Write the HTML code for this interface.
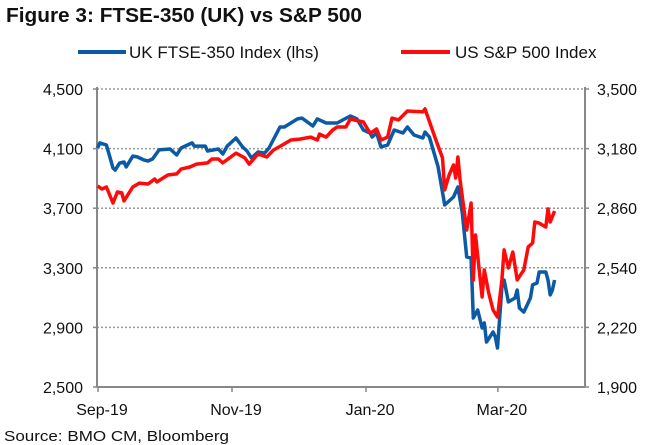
<!DOCTYPE html>
<html><head><meta charset="utf-8"><style>
body{margin:0;background:#fff;}
svg{display:block;font-family:"Liberation Sans",sans-serif;}
</style></head><body>
<svg id="chart" width="650" height="445" viewBox="0 0 650 445" xmlns="http://www.w3.org/2000/svg">
<text x="6" y="22" font-size="20" font-weight="bold" fill="#111" textLength="356" lengthAdjust="spacingAndGlyphs">Figure 3: FTSE-350 (UK) vs S&amp;P 500</text>
<g>
<line x1="78" y1="52" x2="126" y2="52" stroke="#0a5aa6" stroke-width="4"/>
<text x="129" y="58" font-size="17" fill="#111">UK FTSE-350 Index (lhs)</text>
<line x1="401" y1="52" x2="450" y2="52" stroke="#ff0a0a" stroke-width="4"/>
<text x="455" y="58" font-size="17" fill="#111">US S&amp;P 500 Index</text>
</g>
<g id="grid"></g>
<g id="axes"></g>
<g id="series"></g>
<text x="4" y="441" font-size="15" fill="#111" textLength="225" lengthAdjust="spacingAndGlyphs">Source: BMO CM, Bloomberg</text>
</svg>
<script>
const leftTicks=[4500,4100,3700,3300,2900,2500];
const leftTickLabels=["4,500","4,100","3,700","3,300","2,900","2,500"];
const rightTicks=[3500,3180,2860,2540,2220,1900];
const rightTickLabels=["3,500","3,180","2,860","2,540","2,220","1,900"];
const xTickDays=[0,61,122,182];
const xTickLabels=["Sep-19","Nov-19","Jan-20","Mar-20"];
const ftseDays=[-2,-1,2,5,6,8,10,11,14,16,19,21,23,26,31,34,36,41,42,47,48,53,55,57,61,64,66,68,71,74,76,81,83,89,91,96,98,102,107,113,116,119,122,123,125,127,130,133,137,139,142,146,147,149,153,156,160,162,164,166,168,169,171,173,174,175,178,179,180,182,183,185,188,189,190,192,195,196,198,199,202,203,204,205,206];
const ftseValues=[4104,4138,4124,3970,3956,4003,4010,3977,4050,4044,4024,4017,4030,4091,4097,4057,4104,4138,4117,4117,4084,4097,4064,4117,4171,4111,4084,4037,4077,4070,4104,4245,4245,4299,4305,4252,4299,4272,4272,4319,4299,4225,4205,4178,4205,4111,4124,4225,4205,4245,4191,4171,4211,4178,3977,3722,3775,3842,3668,3373,3366,2963,3017,2896,2930,2802,2869,2836,2762,3171,3218,3071,3097,3151,3030,3003,3097,3185,3198,3272,3272,3218,3118,3151,3218];
const spDays=[-2,0,2,5,7,9,10,14,17,21,24,25,30,34,36,40,43,48,50,53,55,61,65,67,71,75,78,82,86,90,95,98,99,102,105,107,111,113,119,122,123,125,127,130,132,135,139,146,147,152,155,156,158,160,161,162,163,166,168,169,170,173,174,176,178,180,182,183,185,187,189,192,194,196,197,199,202,203,204,206];
const spValues=[2979,2963,2974,2888,2947,2942,2899,2974,2995,2990,3017,3001,3038,3044,3070,3081,3097,3103,3124,3124,3103,3156,3130,3097,3151,3135,3172,3199,3226,3231,3242,3226,3258,3242,3280,3296,3296,3339,3323,3264,3269,3285,3226,3242,3344,3334,3382,3377,3393,3226,3130,2958,3038,3092,3022,3135,3011,2743,2888,2475,2716,2383,2528,2405,2313,2276,2475,2636,2539,2625,2475,2528,2652,2673,2786,2780,2759,2856,2786,2845];

const NS="http://www.w3.org/2000/svg";
const X0=97,X1=585,Y0=89,Y1=387;
const xScale=d=>102+d*2.197;
const yLeft=v=>Y0+(4500-v)/(4500-2500)*(Y1-Y0);
const yRight=v=>Y0+(3500-v)/(3500-1900)*(Y1-Y0);
function mk(tag,attrs,parent){const e=document.createElementNS(NS,tag);for(const k in attrs)e.setAttribute(k,attrs[k]);parent.appendChild(e);return e;}
const grid=document.getElementById('grid'),axes=document.getElementById('axes'),series=document.getElementById('series');
leftTicks.forEach((v,i)=>{
  const y=yLeft(v);
  if(i<leftTicks.length-1){const g=mk('line',{x1:X0,x2:X1,y1:y,y2:y,stroke:'#999','stroke-width':1.5,'stroke-dasharray':'2,2'},grid);
  
  }
  const lt=mk('line',{x1:X0-4,x2:X0,y1:y,y2:y,stroke:'#888','stroke-width':1.5},axes);
  
  
  const rt=mk('line',{x1:X1,x2:X1+4,y1:y,y2:y,stroke:'#888','stroke-width':1.5},axes);
  
  
  const t=mk('text',{x:83,y:y+6,'font-size':16,'text-anchor':'end',fill:'#111'},axes);t.textContent=leftTickLabels[i];
  
  
});
rightTicks.forEach((v,i)=>{
  const y=yRight(v);
  const t=mk('text',{x:597,y:y+6,'font-size':16,fill:'#111'},axes);t.textContent=rightTickLabels[i];
  
  
});
let a=mk('line',{x1:X0,x2:X0,y1:Y0-2,y2:Y1,stroke:'#888','stroke-width':2},axes);


a=mk('line',{x1:X1,x2:X1,y1:Y0-2,y2:Y1,stroke:'#888','stroke-width':2},axes);


a=mk('line',{x1:X0,x2:X1,y1:Y1,y2:Y1,stroke:'#888','stroke-width':2},axes);


xTickDays.forEach((d,i)=>{
  const x=xScale(d);
  const tk=mk('line',{x1:x-4,x2:x-4,y1:Y1,y2:Y1+5,stroke:'#888','stroke-width':1.5},axes);
  
  
  const t=mk('text',{x:x,y:415,'font-size':16,'text-anchor':'middle',fill:'#111'},axes);t.textContent=xTickLabels[i];
  
  
});
const ftPath=mk('polyline',{points:ftseDays.map((d,i)=>xScale(d).toFixed(1)+','+yLeft(ftseValues[i]).toFixed(1)).join(' '),fill:'none',stroke:'#0a5aa6','stroke-width':3.5,'stroke-linejoin':'round'},series);


const spPath=mk('polyline',{points:spDays.map((d,i)=>xScale(d).toFixed(1)+','+yRight(spValues[i]).toFixed(1)).join(' '),fill:'none',stroke:'#ff0a0a','stroke-width':3.5,'stroke-linejoin':'round'},series);


</script>
</body></html>
